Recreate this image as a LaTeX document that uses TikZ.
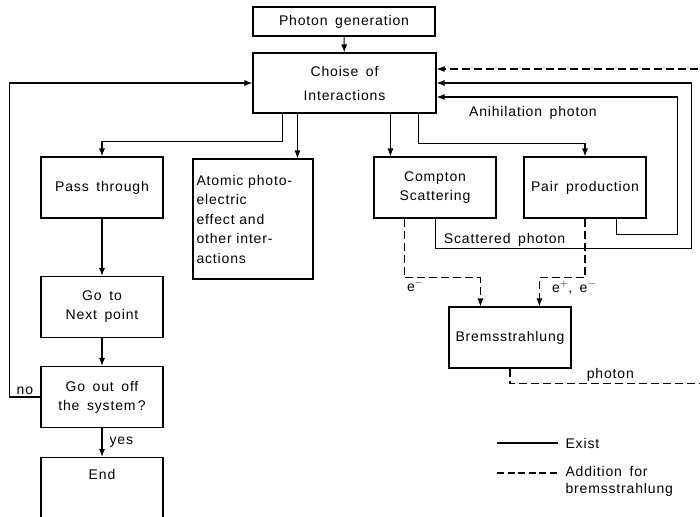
\documentclass[tikz,border=0pt]{standalone}
\usepackage{fontspec}
\setmainfont[LetterSpace=6,WordSpace=1.6]{Liberation Sans}
\usetikzlibrary{arrows.meta}

\begin{document}
\begin{tikzpicture}[x=1pt, y=-1pt, line width=1.1pt,
  every node/.style={font=\fontsize{14}{19}\selectfont},
  blk/.style={draw,line width=1.1pt,minimum width=122pt,minimum height=61pt,align=center,inner sep=2pt},
  arr/.style={-{Latex[length=8pt,width=6pt]}},
  dsh/.style={dash pattern=on 8pt off 4pt},
  lbl/.style={inner sep=2pt}]
\useasboundingbox (0,0) rectangle (700,516);

% boxes
\node[blk,minimum width=182pt,minimum height=29pt] (gen) at (344,21.5) {Photon generation};
\node[blk,minimum width=183pt,minimum height=60pt,font=\fontsize{14}{24}\selectfont] (choice) at (344.5,83) {Choise of\\Interactions};
\node[blk] (pass) at (102,187.5) {Pass through};
\node[blk,minimum width=120pt,minimum height=120pt,text width=113pt,align=left,inner sep=3pt,font=\fontsize{14}{19.5}\selectfont] (atomic) at (253,219) {Atomic photo-\\electric\\effect and\\other inter-\\actions};
\node[blk] (compton) at (435,187.5) {Compton\\Scattering};
\node[blk] (pair) at (585,187.5) {Pair production};
\node[blk] (next) at (102,307) {Go to\\Next point};
\node[blk] (out) at (102,397) {Go out off\\the system\,?};
\node[blk,anchor=north,text height=20pt,text depth=60pt] (stop) at (102,457) {End};
\node[blk] (brems) at (510,337.5) {Bremsstrahlung};

% photon path
\draw[arr] (gen) -- (choice);
\draw[arr] ([xshift=30pt]choice.south west) -- ++(0,28) -| (pass.north);
\draw[arr] ([xshift=45pt]choice.south west) coordinate (c2) -- (c2 |- atomic.north);
\draw[arr] ([xshift=138pt]choice.south west) coordinate (c3) -- (c3 |- compton.north);
\draw[arr] ([xshift=166pt]choice.south west) -- ++(0,30) -| (pair.north);
\draw[arr] (pass) -- (next);
\draw[arr] (next) -- (out);
\draw[arr] (out) -- (stop) node[midway,right=5pt,lbl] {yes};
\draw[arr] (out.west) -- ++(-31,0) node[midway,above,lbl] {no} |- (choice.west);

% secondary photons back to the choice
\draw[arr] ([xshift=62pt]compton.south west) -- ++(0,30)
  -- ++(256,0) node[pos=0.27,above,lbl] {Scattered photon} |- (choice.east);
\draw[arr] ([xshift=93pt]pair.south west) -- ++(0,16) -- ++(61,0)
  |- ([yshift=-14pt]choice.east) node[pos=0.8,below=7pt,lbl] {Anihilation photon};

% electrons to bremsstrahlung
\draw[arr,dsh] ([xshift=31pt]compton.south west) -- ++(0,59) node[below right,lbl] {e$^-$}
  -| ([xshift=32pt]brems.north west);
\draw[arr,dsh] (pair.south) -- ++(0,59) node[below=1pt,xshift=-11pt,lbl] {e$^+$, e$^-$}
  -| ([xshift=91pt]brems.north west);
\draw[arr,dsh] (brems.south) -- ++(0,15) -- ++(193,0) node[pos=0.52,above,lbl] {photon}
  |- ([yshift=14pt]choice.east);

% legend
\coordinate (exA) at (497,443);
\coordinate (exB) at (558,443);
\coordinate (adA) at (497,473);
\coordinate (adB) at (558,473);
\draw (exA) -- (exB);
\draw[dash pattern=on 7pt off 3.5pt] (adA) -- (adB);
\node[lbl,anchor=west] (exist) at (563,443) {Exist};
\node[lbl,anchor=north west,align=left,font=\fontsize{14}{17}\selectfont] (addit) at (563,464) {Addition for\\bremsstrahlung};
\end{tikzpicture}
\end{document}
